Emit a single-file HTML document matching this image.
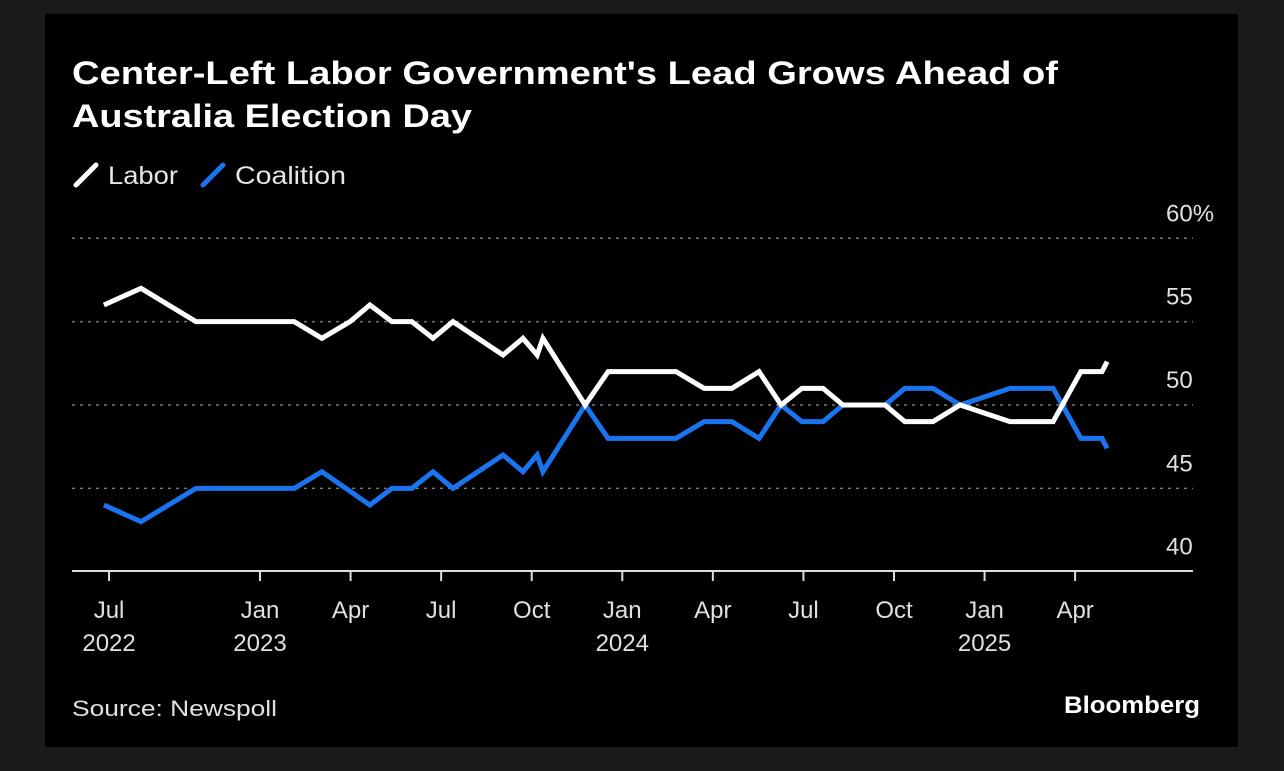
<!DOCTYPE html>
<html><head><meta charset="utf-8"><style>
html,body{margin:0;padding:0;background:#1b1b1b;width:1284px;height:771px;overflow:hidden}
svg{display:block}
text{font-family:"Liberation Sans",sans-serif}
</style></head><body>
<svg id="chart" width="1284" height="771" viewBox="0 0 1284 771">
<rect x="0" y="0" width="1284" height="771" fill="#1b1b1b"/>
<rect x="45" y="14" width="1193" height="733" fill="#000"/>
<text x="72" y="84" fill="#fff" font-size="32" font-weight="bold" textLength="986" lengthAdjust="spacingAndGlyphs">Center-Left Labor Government's Lead Grows Ahead of</text>
<text x="72" y="127" fill="#fff" font-size="32" font-weight="bold" textLength="400" lengthAdjust="spacingAndGlyphs">Australia Election Day</text>
<g>
<line x1="76" y1="185" x2="96" y2="165" stroke="#fff" stroke-width="5" stroke-linecap="round"/>
<text x="108" y="184" fill="#e6e6e6" font-size="25" textLength="70" lengthAdjust="spacingAndGlyphs">Labor</text>
<line x1="203" y1="185" x2="223" y2="165" stroke="#1a74f0" stroke-width="5" stroke-linecap="round"/>
<text x="235" y="184" fill="#e6e6e6" font-size="25" textLength="111" lengthAdjust="spacingAndGlyphs">Coalition</text>
</g>
<g id="grid"></g>
<g id="xaxis"></g>
<g id="series"></g>
<text x="72" y="716" fill="#e0e0e0" font-size="22" textLength="205" lengthAdjust="spacingAndGlyphs">Source: Newspoll</text>
<text x="1200" y="713" fill="#fff" font-size="24" font-weight="bold" text-anchor="end" textLength="136" lengthAdjust="spacingAndGlyphs">Bloomberg</text>
</svg>
<script>
// months offset from Jan 2023
const xTickMonths = [-5, 0, 3, 6, 9, 12, 15, 18, 21, 24, 27];
const xTickMonthLabels = ["Jul","Jan","Apr","Jul","Oct","Jan","Apr","Jul","Oct","Jan","Apr"];
const xTickYearLabels = ["2022","2023","","","","2024","","","","2025",""];
const yTicks = [40, 45, 50, 55, 60];
const yTickLabels = ["40","45","50","55","60%"];
const laborMonths = [-5.17,-3.94,-2.12,1.13,2.05,2.98,3.64,4.37,5.03,5.73,6.39,8.05,8.71,9.18,9.37,10.77,11.53,13.78,14.71,15.63,16.53,17.26,17.95,18.65,19.31,20.70,21.36,22.29,23.19,24.84,26.27,27.19,27.89,28.06];
const laborValues = [56,57,55,55,54,55,56,55,55,54,55,53,54,53,54,50,52,52,51,51,52,50,51,51,50,50,49,49,50,49,49,52,52,52.6];
const coalitionMonths = [-5.17,-3.94,-2.12,1.13,2.05,3.64,4.37,5.03,5.73,6.39,8.05,8.71,9.18,9.37,10.77,11.53,13.78,14.71,15.63,16.53,17.26,17.95,18.65,19.31,20.70,21.36,22.29,23.19,24.84,26.27,27.19,27.89,28.06];
const coalitionValues = [44,43,45,45,46,44,45,45,46,45,47,46,47,46,50,48,48,49,49,48,50,49,49,50,50,51,51,50,51,51,48,48,47.4];

const NS = "http://www.w3.org/2000/svg";
const x = m => 260 + m * 30.19;
const y = v => 405 - (v - 50) * 16.67;
function mk(tag, attrs, parent){const e=document.createElementNS(NS,tag);for(const k in attrs)e.setAttribute(k,attrs[k]);parent.appendChild(e);return e;}
const grid=document.getElementById('grid'), xa=document.getElementById('xaxis'), ser=document.getElementById('series');
yTicks.forEach((v,i)=>{
  if(v>40){
    const l=mk('line',{x1:72,x2:1193,y1:y(v),y2:y(v),stroke:'#777','stroke-width':1.5,'stroke-dasharray':'3 5'},grid);
    
    
  }
  const t=mk('text',{x:1166,y:y(v)-17,fill:'#e0e0e0','font-size':24},grid);
  t.textContent=yTickLabels[i];
  
  
});
const ax=mk('line',{x1:72,x2:1193,y1:571,y2:571,stroke:'#ddd','stroke-width':2},xa);


xTickMonths.forEach((m,i)=>{
  const tk=mk('line',{x1:x(m),x2:x(m),y1:571,y2:581,stroke:'#ddd','stroke-width':2},xa);
  
  
  const t=mk('text',{x:x(m),y:618,fill:'#e0e0e0','font-size':24,'text-anchor':'middle'},xa);
  t.textContent=xTickMonthLabels[i];
  
  
  if(xTickYearLabels[i]){
    const t2=mk('text',{x:x(m),y:651,fill:'#e0e0e0','font-size':24,'text-anchor':'middle'},xa);
    t2.textContent=xTickYearLabels[i];
    
    
  }
});
function drawLine(ms,vs,color,name){
  const p=mk('polyline',{points:ms.map((m,i)=>x(m)+','+y(vs[i])).join(' '),fill:'none',stroke:color,'stroke-width':5,'stroke-linejoin':'miter','stroke-linecap':'butt'},ser);
  
  
}
drawLine(coalitionMonths,coalitionValues,'#1a74f0','coalition-line');
drawLine(laborMonths,laborValues,'#ffffff','labor-line');
</script>
</body></html>
